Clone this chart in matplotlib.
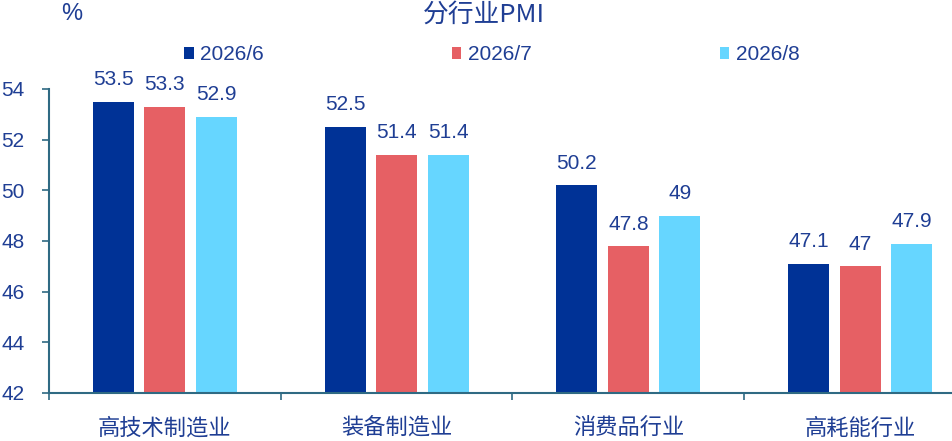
import numpy as np
import matplotlib.pyplot as plt
from matplotlib.ticker import FixedLocator

plt.rcParams['font.family'] = ['Liberation Sans', 'Noto Sans CJK SC', 'DejaVu Sans']

categories = ["高技术制造业", "装备制造业", "消费品行业", "高耗能行业"]
series_names = ["2026/6", "2026/7", "2026/8"]
jun = [53.5, 52.5, 50.2, 47.1]
jul = [53.3, 51.4, 47.8, 47.0]
aug = [52.9, 51.4, 49.0, 47.9]

colors = ["#003296", "#E66064", "#66D6FF"]
text_color = "#1F3E94"
axis_color = "#2F6A83"

fig = plt.figure(figsize=(9.53, 4.41), dpi=100)
ax = fig.add_axes([49 / 953, 48 / 441, 927 / 953, 304 / 441])

x = np.arange(len(categories))
width = 0.177
step = 0.222

for i, (vals, name) in enumerate(zip([jun, jul, aug], series_names)):
    bars = ax.bar(x + (i - 1) * step, vals, width, bottom=0, color=colors[i],
                  label=name, zorder=2)
    ax.bar_label(bars, labels=[f"{v:g}" for v in vals], padding=9,
                 fontsize=15, color=text_color)

ax.set_xlim(-0.5, 3.5)
ax.set_ylim(42, 54)
ax.set_yticks(np.arange(42, 55, 2))
ax.tick_params(axis='y', direction='out', length=5, width=1.2, color=axis_color,
               labelsize=15, labelcolor=text_color, pad=12.5)

ax.set_xticks(x)
ax.set_xticklabels(categories, family=['Noto Sans CJK SC'])
ax.xaxis.set_minor_locator(FixedLocator([-0.5, 0.5, 1.5, 2.5, 3.5]))
ax.tick_params(axis='x', which='major', length=0, labelsize=16,
               labelcolor=text_color, pad=17)
ax.tick_params(axis='x', which='minor', direction='out', length=5, width=1.2,
               color=axis_color)

for side in ['top', 'right']:
    ax.spines[side].set_visible(False)
for side in ['left', 'bottom']:
    ax.spines[side].set_color(axis_color)
    ax.spines[side].set_linewidth(1.5)

leg = ax.legend(ncol=3, loc='center left', bbox_to_anchor=(139 / 953, 1.112),
                frameon=False, fontsize=15, handlelength=0.45, handleheight=0.45,
                handletextpad=0.3, columnspacing=9.05, borderaxespad=0, borderpad=0)
for t in leg.get_texts():
    t.set_color(text_color)

fig.text(484 / 953, 1 - 15 / 441, "分行业PMI", ha='center', va='center',
         fontsize=18.5, color=text_color, family=['Noto Sans CJK SC'])
fig.text(61 / 953, 1 - 14 / 441, "%", ha='left', va='center',
         fontsize=17, color=text_color)

fig.savefig("out.png", dpi=100)
